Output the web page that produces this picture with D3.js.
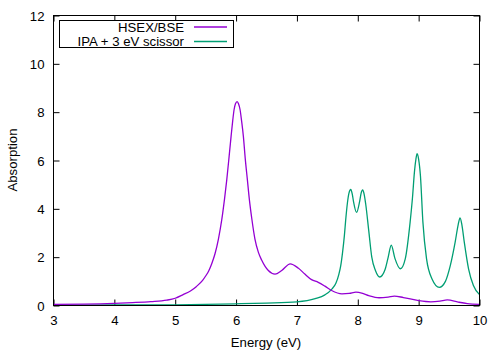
<!DOCTYPE html>
<html>
<head>
<meta charset="utf-8">
<script src="https://cdn.jsdelivr.net/npm/d3@7"></script>
<style>
  html, body { margin: 0; padding: 0; background: #fff; }
  svg { display: block; font-family: "Liberation Sans", Arial, sans-serif; }
</style>
</head>
<body>
<svg id="chart" width="500" height="350"></svg>
<script>
// ---- data ----
const seriesNames = ["HSEX/BSE", "IPA + 3 eV scissor"];
const seriesColors = ["#9400d3", "#009e73"];

const bseEnergy = [3.0, 3.5, 4.0, 4.3, 4.6, 4.86, 5.0, 5.13, 5.25, 5.35, 5.45, 5.5, 5.55, 5.6, 5.655, 5.71, 5.765, 5.81, 5.847, 5.885, 5.918, 5.945, 5.967, 5.99, 6.017, 6.04, 6.066, 6.09, 6.12, 6.15, 6.186, 6.22, 6.258, 6.31, 6.367, 6.42, 6.477, 6.53, 6.64, 6.75, 6.89, 7.02, 7.13, 7.24, 7.35, 7.46, 7.57, 7.74, 7.86, 7.97, 8.08, 8.18, 8.35, 8.5, 8.6, 8.75, 9.0, 9.2, 9.35, 9.47, 9.65, 9.8, 10.0];
const bseAbs    = [0.05, 0.06, 0.09, 0.12, 0.16, 0.22, 0.30, 0.45, 0.60, 0.79, 1.04, 1.22, 1.43, 1.73, 2.15, 2.75, 3.55, 4.4, 5.2, 6.15, 7.0, 7.65, 8.1, 8.35, 8.44, 8.35, 8.1, 7.65, 7.0, 6.1, 5.2, 4.35, 3.6, 2.75, 2.2, 1.88, 1.62, 1.45, 1.30, 1.45, 1.72, 1.55, 1.30, 1.07, 0.96, 0.80, 0.62, 0.48, 0.50, 0.55, 0.50, 0.41, 0.32, 0.35, 0.39, 0.33, 0.20, 0.15, 0.18, 0.23, 0.14, 0.08, 0.05];

const ipaEnergy = [3.0, 4.0, 5.0, 6.0, 6.5, 7.0, 7.3, 7.46, 7.57, 7.64, 7.69, 7.72, 7.75, 7.78, 7.80, 7.83, 7.855, 7.885, 7.91, 7.93, 7.98, 8.03, 8.055, 8.08, 8.105, 8.13, 8.18, 8.23, 8.29, 8.36, 8.45, 8.50, 8.55, 8.61, 8.70, 8.78, 8.86, 8.90, 8.93, 8.955, 8.975, 9.0, 9.03, 9.07, 9.13, 9.22, 9.34, 9.44, 9.52, 9.60, 9.65, 9.68, 9.71, 9.75, 9.82, 9.90, 10.0];
const ipaAbs    = [0.01, 0.02, 0.03, 0.07, 0.10, 0.15, 0.28, 0.44, 0.67, 0.92, 1.3, 1.65, 2.2, 2.9, 3.5, 4.25, 4.65, 4.8, 4.6, 4.3, 3.85, 4.3, 4.65, 4.78, 4.6, 4.2, 3.1, 2.0, 1.45, 1.18, 1.5, 2.0, 2.5, 1.95, 1.52, 1.93, 3.45, 4.5, 5.5, 6.05, 6.28, 6.05, 5.35, 3.45, 1.93, 1.1, 0.75, 1.0, 1.65, 2.62, 3.35, 3.63, 3.35, 2.62, 1.52, 0.83, 0.45];

const xTicks = [3, 4, 5, 6, 7, 8, 9, 10];
const yTicks = [0, 2, 4, 6, 8, 10, 12];
const xLabel = "Energy (eV)";
const yLabel = "Absorption";

// ---- layout ----
const svg = d3.select("#chart");
const L = 53.5, R = 479.5, T = 15.5, B = 305.5;
const x = d3.scaleLinear().domain([3, 10]).range([L, R]);
const y = d3.scaleLinear().domain([0, 12]).range([B, T]);
const fs = "13.2px";
const fmt = d3.format("d");

svg.append("clipPath").attr("id", "clip").append("rect")
  .attr("x", L).attr("y", T).attr("width", R - L).attr("height", B - T);

// axes (ticks inward, mirrored)
const tickLen = 6;
const axB = svg.append("g").attr("transform", `translate(0,${B})`)
  .call(d3.axisBottom(x).tickValues(xTicks).tickFormat(fmt).tickSizeInner(-tickLen).tickSizeOuter(0));
const axT = svg.append("g").attr("transform", `translate(0,${T})`)
  .call(d3.axisTop(x).tickValues(xTicks).tickSizeInner(-tickLen).tickSizeOuter(0).tickFormat(""));
const axL = svg.append("g").attr("transform", `translate(${L},0)`)
  .call(d3.axisLeft(y).tickValues(yTicks).tickFormat(fmt).tickSizeInner(-tickLen).tickSizeOuter(0));
const axR = svg.append("g").attr("transform", `translate(${R},0)`)
  .call(d3.axisRight(y).tickValues(yTicks).tickSizeInner(-tickLen).tickSizeOuter(0).tickFormat(""));
[axB, axT, axL, axR].forEach(a => {
  a.select(".domain").remove();
  a.selectAll("line").attr("stroke", "#000").attr("stroke-width", 1);
  a.selectAll("text").attr("font-size", fs).attr("fill", "#000")
    .attr("font-family", '"Liberation Sans", Arial, sans-serif');
});
axB.selectAll("text").attr("dy", null).attr("dominant-baseline", "central").attr("y", 15);
axL.selectAll("text").attr("dy", null).attr("dominant-baseline", "central").attr("x", -9);

// lines
const line = d3.line().x(d => x(d[0])).y(d => y(d[1])).curve(d3.curveMonotoneX);
const dataSets = [
  d3.zip(bseEnergy, bseAbs),
  d3.zip(ipaEnergy, ipaAbs)
];
[1, 0].forEach(i => {
  svg.append("path").datum(dataSets[i])
    .attr("clip-path", "url(#clip)")
    .attr("fill", "none").attr("stroke", seriesColors[i]).attr("stroke-width", 1.3)
    .attr("d", line);
});

// border
svg.append("rect").attr("x", L).attr("y", T).attr("width", R - L).attr("height", B - T)
  .attr("fill", "none").attr("stroke", "#000").attr("stroke-width", 1);

// axis titles
svg.append("text").attr("x", 266).attr("y", 342).attr("text-anchor", "middle")
  .attr("dominant-baseline", "central").attr("font-size", fs).text(xLabel);
svg.append("text").attr("transform", "translate(12,160) rotate(-90)").attr("text-anchor", "middle")
  .attr("dominant-baseline", "central").attr("font-size", fs).text(yLabel);

// legend
const lg = svg.append("g");
lg.append("rect").attr("x", 59.5).attr("y", 20.5).attr("width", 174).attr("height", 27)
  .attr("fill", "#fff").attr("stroke", "#000").attr("stroke-width", 1);
seriesNames.forEach((name, i) => {
  const yy = 27 + i * 14.5;
  lg.append("text").attr("x", 184).attr("y", yy).attr("text-anchor", "end")
    .attr("dominant-baseline", "central").attr("font-size", fs).text(name);
  lg.append("line").attr("x1", 194).attr("x2", 227).attr("y1", yy).attr("y2", yy)
    .attr("stroke", seriesColors[i]).attr("stroke-width", 1.3);
});
</script>
</body>
</html>
